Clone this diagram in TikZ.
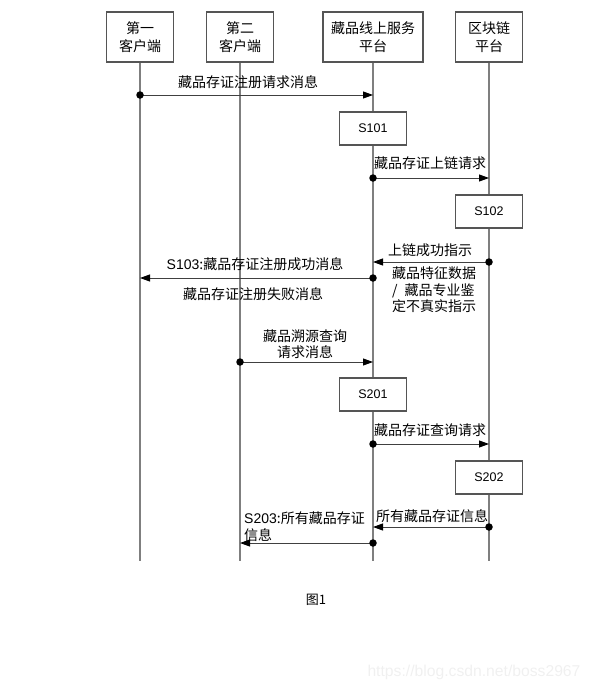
\documentclass[tikz,border=0pt]{standalone}
\usepackage{fontspec}
\setmainfont{Noto Sans CJK SC}
\newfontfamily\latinsans{Liberation Sans}
\usepackage{xcolor}
\usepackage{tikz}
\usetikzlibrary{arrows.meta}
\usetikzlibrary{calc}
\definecolor{lifecolor}{HTML}{7F7F7F}
\definecolor{boxcolor}{HTML}{555555}

\tikzset{
  party/.style={draw=boxcolor,line width=1.1pt,minimum width=67pt,minimum height=50pt,
    align=center,inner sep=0pt,font=\fontsize{14}{18}\selectfont},
  stepbox/.style={draw=boxcolor,line width=1.1pt,fill=white,minimum width=67pt,minimum height=33pt,
    inner sep=0pt,font=\latinsans\fontsize{12.5}{14}\selectfont},
  life/.style={color=lifecolor,line width=1.3pt},
  msg/.style={black!75,line width=0.9pt,-{Triangle[length=10pt,width=7pt,color=black]}},
  msgtext/.style={font=\fontsize{14}{16.5}\selectfont,inner sep=0pt},
  dot/.style={circle,fill=black,inner sep=0pt,minimum size=7.5pt}
}

\begin{document}
\begin{tikzpicture}[x=1pt,y=-1pt]
\useasboundingbox (0,0) rectangle (594,691);
% parties
\node[party] (c1) at (140,37) {第一\\客户端};
\node[party] (c2) at (240,37) {第二\\客户端};
\node[party,minimum width=100pt] (c3) at (373,37) {藏品线上服务\\平台};
\node[party] (c4) at (489,37) {区块链\\平台};
\foreach \n in {1,2,3,4}
   \coordinate (e\n) at ($(c\n.south)+(0,498)$);
\foreach \n in {1,2,3,4}
   \draw[life] (c\n.south) -- (e\n);
% steps
\node[stepbox] (s101) at (373,128.5) {S101};
\node[stepbox] (s102) at (489,211.5) {S102};
\node[stepbox] (s201) at (373,394.5) {S201};
\node[stepbox] (s202) at (489,477.5) {S202};
% message levels
\foreach \m/\y in {1/95,2/178,3/262,4/278,5/362,6/444,7/527,8/543}
   \coordinate (y\m) at (0,\y);
\draw[msg] (c1 |- y1) -- (c3 |- y1);
\draw[msg] (c3 |- y2) -- (c4 |- y2);
\draw[msg] (c4 |- y3) -- (c3 |- y3);
\draw[msg] (c3 |- y4) -- (c1 |- y4);
\draw[msg] (c2 |- y5) -- (c3 |- y5);
\draw[msg] (c3 |- y6) -- (c4 |- y6);
\draw[msg] (c4 |- y7) -- (c3 |- y7);
\draw[msg] (c3 |- y8) -- (c2 |- y8);
\foreach \p/\m in {c1/1,c3/2,c4/3,c3/4,c2/5,c3/6,c4/7,c3/8}
   \node[dot] at (\p |- y\m) {};
% labels
\node[msgtext] (t1) at (248,82) {藏品存证注册请求消息};
\node[msgtext] (t2) at (430,163) {藏品存证上链请求};
\node[msgtext] (t3) at (430,250) {上链成功指示};
\node[msgtext] (t4) at (255,264) {{\latinsans S103}:藏品存证注册成功消息};
\node[msgtext] (t5) at (253,294) {藏品存证注册失败消息};
\node[msgtext,anchor=north west,align=left] (t6) at (392,267) {藏品特征数据\\/\enspace 藏品专业鉴\\定不真实指示};
\node[msgtext,align=center] (t7) at (305,344) {藏品溯源查询\\请求消息};
\node[msgtext] (t8) at (430,430) {藏品存证查询请求};
\node[msgtext] (t9) at (432,516) {所有藏品存证信息};
\node[msgtext,anchor=north west,align=left] (t10) at (244,512) {{\latinsans S203}:所有藏品存证\\信息};
% caption
\node[font=\fontsize{13}{15}\selectfont] (cap) at (316,600) {图1};
\node[font=\latinsans\fontsize{15.7}{18}\selectfont,text=black!6,anchor=east] (wm) at (584,672) {https://blog.csdn.net/boss2967};
\end{tikzpicture}
\end{document}
